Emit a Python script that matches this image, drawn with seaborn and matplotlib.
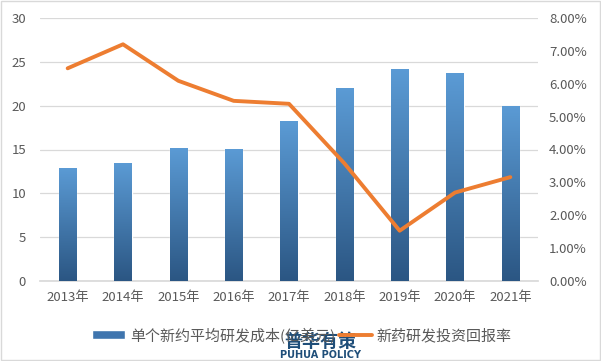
import numpy as np
import pandas as pd
import matplotlib
matplotlib.use("Agg")
import matplotlib.pyplot as plt
import seaborn as sns
from matplotlib.colors import LinearSegmentedColormap
from matplotlib.patches import Rectangle
from matplotlib.lines import Line2D

years = ["2013年", "2014年", "2015年", "2016年", "2017年", "2018年", "2019年", "2020年", "2021年"]
cost = [12.9, 13.5, 15.2, 15.1, 18.2, 22.0, 24.2, 23.7, 20.0]
roi = [6.47, 7.20, 6.09, 5.48, 5.39, 3.58, 1.53, 2.69, 3.16]
bar_label = "单个新约平均研发成本(亿美元)"
line_label = "新药研发投资回报率"

sns.set_theme(style="white")
plt.rcParams['font.family'] = ['Noto Sans CJK SC', 'DejaVu Sans']

df = pd.DataFrame({"year": years, "cost": cost, "roi": roi})

fig = plt.figure(figsize=(6.01, 3.61), dpi=100)
ax = fig.add_axes([40/601, 1-281/361, (538-40)/601, (281-18)/361])
ax2 = ax.twinx()

sns.barplot(data=df, x="year", y="cost", ax=ax, width=0.31, color="#4A86C5",
            saturation=1, zorder=2)
ax.set_ylim(0, 30)
ax.set_yticks([0, 5, 10, 15, 20, 25, 30])
ax.yaxis.grid(True, color="#D9D9D9", lw=0.9, zorder=0)
ax.set_axisbelow(True)

# gradient fill on bars
cmap = LinearSegmentedColormap.from_list("g", ["#2B5683", "#5B9BD5"])
grad = np.linspace(0, 1, 256).reshape(-1, 1)
for p in list(ax.patches):
    x0, y0 = p.get_x(), p.get_y()
    w, h = p.get_width(), p.get_height()
    im = ax.imshow(grad, extent=[x0, x0 + w, y0, y0 + h], origin="lower",
                   cmap=cmap, aspect="auto", zorder=3)
    im.set_clip_path(p)
ax.set_xlim(-0.5, len(years) - 0.5)

sns.lineplot(x=np.arange(len(years)), y=roi, ax=ax2, color="#ED7D31", lw=2.8,
             zorder=5)
ax2.set_ylim(0, 8)
ax2.set_yticks(np.arange(0, 9, 1))
ax2.set_yticklabels([f"{v:.2f}%" for v in np.arange(0, 9, 1)])
ax.set_xlim(-0.5, len(years) - 0.5)

for a in (ax, ax2):
    for s in a.spines.values():
        s.set_visible(False)
    a.tick_params(length=0, labelsize=9.5, colors="#595959")
    a.set_xlabel("")
    a.set_ylabel("")
ax.spines["bottom"].set_visible(True)
ax.spines["bottom"].set_color("#D9D9D9")
ax.tick_params(axis="y", pad=10)
ax.tick_params(axis="x", pad=7)
ax2.tick_params(axis="y", pad=8)

# figure border
fig.patches.append(Rectangle((0.002, 0.003), 0.996, 0.994, transform=fig.transFigure,
                             fill=False, edgecolor="#D9D9D9", lw=1))

# legend
handles = [Rectangle((0, 0), 1, 1, facecolor="#3F75AE"),
           Line2D([0], [0], color="#ED7D31", lw=2.8)]
leg = fig.legend(handles, [bar_label, line_label], loc="center",
                 bbox_to_anchor=(302/601, 1 - 335/361), ncol=2, frameon=False,
                 fontsize=10.8, handlelength=2.2, handleheight=0.5,
                 columnspacing=0.3, handletextpad=0.3)
for t in leg.get_texts():
    t.set_color("#595959")

# watermark
fig.text(320/601, 1 - 341/361, "普华有策", ha="center", va="center", fontsize=13,
         fontweight="bold", color="#1F4E79")
fig.text(320/601, 1 - 355/361, "PUHUA POLICY", ha="center", va="center", fontsize=7,
         fontweight="bold", color="#1F4E79", family=["DejaVu Sans"])

fig.savefig("out.png", dpi=100)
